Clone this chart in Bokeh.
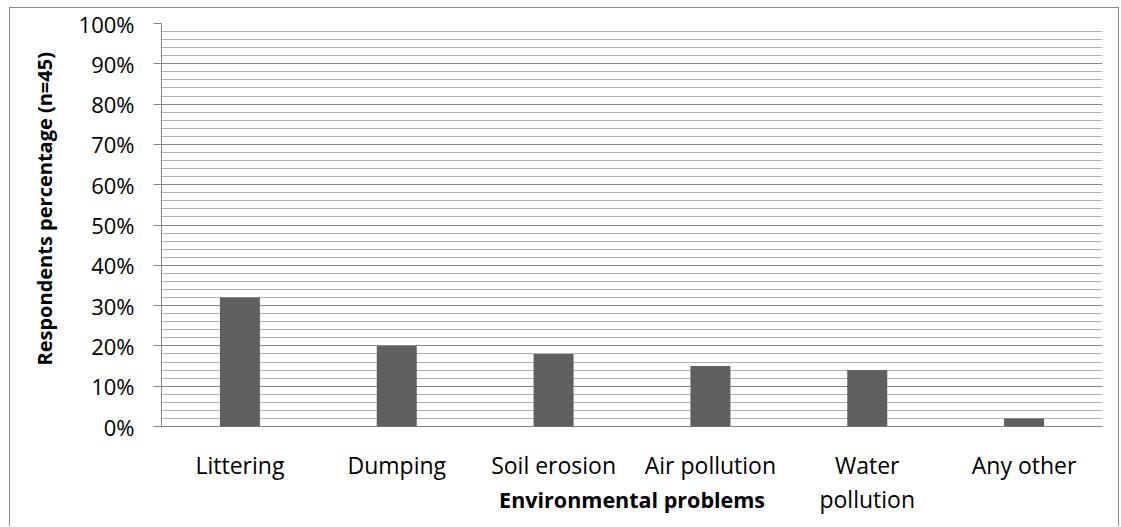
from bokeh.plotting import figure
from bokeh.models import FactorRange, Range1d, SingleIntervalTicker, PrintfTickFormatter, Title
from bokeh.embed import file_html
from bokeh.resources import INLINE
from bokeh.core.properties import value

categories = ["Littering", "Dumping", "Soil erosion", "Air pollution", "Water pollution", "Any other"]
percentages = [32, 20, 18, 15, 14, 2]
label_line1 = ["Littering", "Dumping", "Soil erosion", "Air pollution", "Water", "Any other"]
label_line2 = ["", "", "", "", "pollution", ""]
y_title = "Respondents percentage (n=45)"
x_title = "Environmental problems"

FONT = "Open Sans"
GRID_MAJOR = "#868686"
GRID_MINOR = "#b2b2b2"

# layout (content-box pixels)
W, H = 1110, 519
FRAME_TOP, ZERO_Y = 15, 418
PX_PER_UNIT = (ZERO_Y - FRAME_TOP) / 100.0
y_start = -(H - ZERO_Y) / PX_PER_UNIT


def below(px):
    """data value for a position px pixels below the zero line"""
    return -px / PX_PER_UNIT


p = figure(width=W, height=H, x_range=FactorRange(*categories, range_padding=0),
           y_range=Range1d(y_start, 100), output_backend="svg", toolbar_location=None,
           min_border_left=150, min_border_right=18, min_border_top=FRAME_TOP,
           min_border_bottom=0)
p.styles = {"margin-left": "9px", "margin-top": "7px",
            "border-left": "1px solid #8c8c8c", "border-top": "1px solid #8c8c8c",
            "border-right": "1px solid #8c8c8c"}
p.outline_line_color = None
p.background_fill_color = "white"
p.border_fill_color = "white"

p.vbar(x=categories, top=percentages, width=0.255, color="#606060", line_color=None)

# y axis
p.yaxis.bounds = (0, 100)
p.yaxis.ticker = SingleIntervalTicker(interval=10, num_minor_ticks=5)
p.yaxis.formatter = PrintfTickFormatter(format="%d%%")
p.yaxis.major_tick_out = 8
p.yaxis.major_tick_in = 0
p.yaxis.minor_tick_line_color = None
p.yaxis.major_tick_line_color = GRID_MAJOR
p.yaxis.axis_line_color = GRID_MAJOR
p.yaxis.major_label_standoff = 19
p.yaxis.major_label_text_font = FONT
p.yaxis.major_label_text_font_size = "22px"
p.yaxis.major_label_text_color = "black"

p.add_layout(Title(text=y_title, align="left", offset=162, standoff=36,
                   text_font=FONT, text_font_style="bold", text_font_size="20px",
                   text_color="black"), "left")

p.ygrid.bounds = (0, 100)
p.ygrid.grid_line_color = GRID_MAJOR
p.ygrid.minor_grid_line_color = GRID_MINOR
p.ygrid.level = "underlay"
p.xgrid.grid_line_color = None

p.xaxis.visible = False

# category labels and x title drawn inside the extended frame
p.text(x=categories, y=[below(38)] * len(categories), text=label_line1,
       text_font=value(FONT), text_font_size="23px", text_align="center",
       text_baseline="alphabetic", text_color="black")
p.text(x=categories, y=[below(72)] * len(categories), text=label_line2,
       text_font=value(FONT), text_font_size="23px", text_align="center",
       text_baseline="alphabetic", text_color="black")
p.text(x=[categories[2]], y=[below(73)], x_offset=[(1102 - 160) / 12.0], text=[x_title],
       text_font=value(FONT), text_font_style="bold", text_font_size="21.5px",
       text_align="center", text_baseline="alphabetic", text_color="black")

open("out.html", "w").write(file_html(p, INLINE))
